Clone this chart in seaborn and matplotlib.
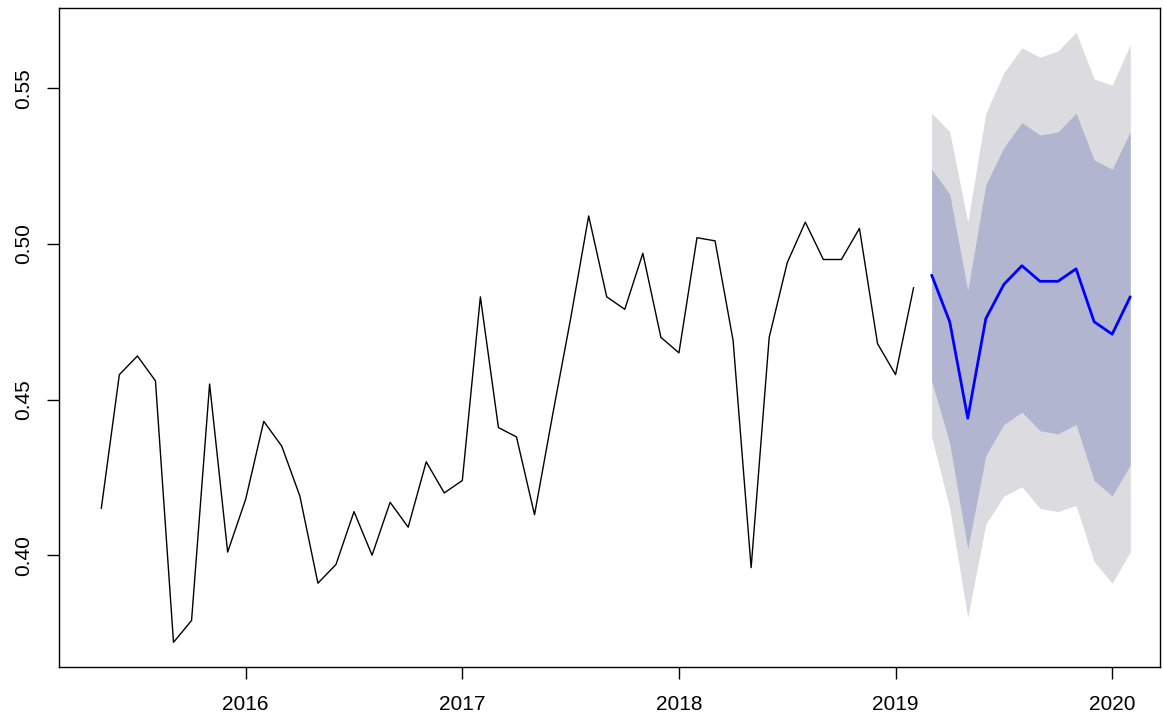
import numpy as np
import pandas as pd
import matplotlib
matplotlib.use("Agg")
import matplotlib.pyplot as plt
import seaborn as sns

# Monthly observations, May 2015 – Feb 2019
observed = [
    0.415, 0.458, 0.464, 0.456, 0.372, 0.379, 0.455, 0.401,   # 2015
    0.418, 0.443, 0.435, 0.419, 0.391, 0.397, 0.414, 0.400,   # 2016
    0.417, 0.409, 0.430, 0.420,
    0.424, 0.483, 0.441, 0.438, 0.413, 0.445, 0.476, 0.509,   # 2017
    0.483, 0.479, 0.497, 0.470,
    0.465, 0.502, 0.501, 0.469, 0.396, 0.470, 0.494, 0.507,   # 2018
    0.495, 0.495, 0.505, 0.468,
    0.458, 0.486,                                             # 2019
]

# Forecast, Mar 2019 – Feb 2020, with 80% and 95% intervals
fc_mean = [0.490, 0.475, 0.444, 0.476, 0.487, 0.493, 0.488, 0.488, 0.492, 0.475, 0.471, 0.483]
fc_lo80 = [0.456, 0.436, 0.402, 0.432, 0.442, 0.446, 0.440, 0.439, 0.442, 0.424, 0.419, 0.429]
fc_hi80 = [0.524, 0.516, 0.485, 0.519, 0.531, 0.539, 0.535, 0.536, 0.542, 0.527, 0.524, 0.536]
fc_lo95 = [0.438, 0.415, 0.380, 0.410, 0.419, 0.422, 0.415, 0.414, 0.416, 0.398, 0.391, 0.401]
fc_hi95 = [0.542, 0.536, 0.507, 0.542, 0.555, 0.563, 0.560, 0.562, 0.568, 0.553, 0.551, 0.564]

year_ticks = [2016, 2017, 2018, 2019, 2020]
value_ticks = [0.40, 0.45, 0.50, 0.55]

start = 2015 + 4 / 12
t_obs = start + np.arange(len(observed)) / 12
t_fc = t_obs[-1] + (np.arange(len(fc_mean)) + 1) / 12

obs_df = pd.DataFrame({"time": t_obs, "value": observed})
fc_df = pd.DataFrame({"time": t_fc, "mean": fc_mean,
                      "lo80": fc_lo80, "hi80": fc_hi80,
                      "lo95": fc_lo95, "hi95": fc_hi95})

sns.set_style("ticks")
plt.rcParams["font.family"] = ["Liberation Sans", "DejaVu Sans"]

fig = plt.figure(figsize=(11.64, 7.19), dpi=100)
ax = fig.add_axes([0.0503, 0.0727, 0.9463, 0.9163])

ax.fill_between(fc_df["time"], fc_df["lo95"], fc_df["hi95"],
                color="#DBDBE0", linewidth=0, zorder=1)
ax.fill_between(fc_df["time"], fc_df["lo80"], fc_df["hi80"],
                color="#B1B5D0", linewidth=0, zorder=2)

sns.lineplot(data=obs_df, x="time", y="value", ax=ax,
             color="black", linewidth=1.0, zorder=3)
sns.lineplot(data=fc_df, x="time", y="mean", ax=ax,
             color="#0000FF", linewidth=2.0, zorder=4)

ax.set_xlim(2015.136, 2020.221)
all_v = np.concatenate([observed, fc_lo95, fc_hi95])
vpad = 0.04 * (all_v.max() - all_v.min())
ax.set_ylim(all_v.min() - vpad, all_v.max() + vpad)

ax.set_xticks(year_ticks)
ax.set_xticklabels([str(y) for y in year_ticks])
ax.set_yticks(value_ticks)
ax.set_yticklabels([f"{v:.2f}" for v in value_ticks], rotation=90, va="center")

ax.set_xlabel("")
ax.set_ylabel("")
ax.tick_params(axis="both", direction="out", length=8.6, width=1.0,
               color="black", labelsize=15, labelcolor="black")
ax.tick_params(axis="x", pad=12)
ax.tick_params(axis="y", pad=10)

for side in ["top", "right", "bottom", "left"]:
    ax.spines[side].set_visible(True)
    ax.spines[side].set_color("black")
    ax.spines[side].set_linewidth(1.0)

ax.grid(False)
ax.set_facecolor("white")
fig.patch.set_facecolor("white")

fig.savefig("out.png", dpi=100, facecolor="white")
